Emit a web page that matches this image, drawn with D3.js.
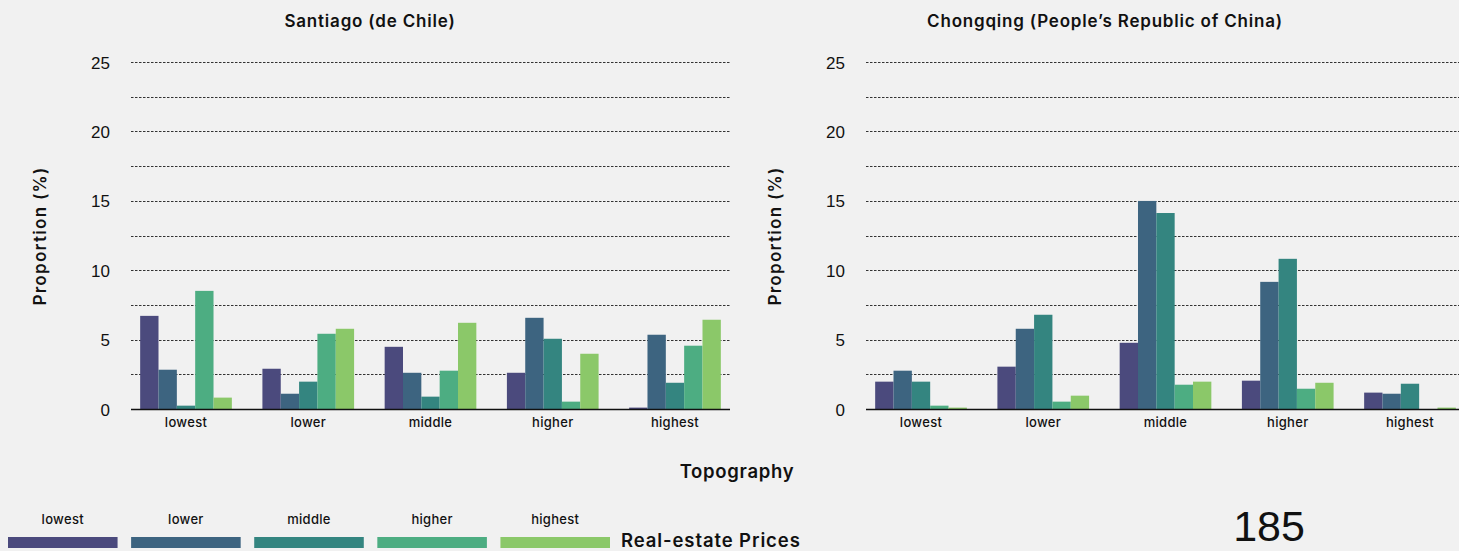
<!DOCTYPE html>
<html>
<head>
<meta charset="utf-8">
<script src="https://cdn.jsdelivr.net/npm/d3@7"></script>
<style>
  body { margin: 0; background: #f1f1f1; }
  svg { display: block; }
  text { font-family: Inter, "Liberation Sans", sans-serif; fill: #111; }
</style>
</head>
<body>
<div id="chart"></div>
<script>
var w = 1459;
var h = 551;

// categories
var topography = ["lowest", "lower", "middle", "higher", "highest"];
var prices = ["lowest", "lower", "middle", "higher", "highest"];
var colors = ["#4b4a7d", "#3d6480", "#348580", "#4dad82", "#8bc869"];
var yTicks = [0, 5, 10, 15, 20, 25];

// values per topography group, one entry per price level
var santiago = [
  [6.71, 2.83, 0.24, 8.51, 0.82],
  [2.90, 1.10, 1.97, 5.42, 5.78],
  [4.48, 2.61, 0.89, 2.76, 6.21],
  [2.61, 6.57, 5.06, 0.53, 3.98],
  [0.10, 5.35, 1.89, 4.56, 6.43]
];
var chongqing = [
  [1.97, 2.76, 1.97, 0.24, 0.10],
  [3.05, 5.78, 6.79, 0.53, 0.96],
  [4.77, 14.99, 14.12, 1.75, 1.97],
  [2.04, 9.16, 10.82, 1.46, 1.89],
  [1.18, 1.10, 1.82, 0.00, 0.10]
];

var svg = d3.select("#chart")
            .append("svg")
            .attr("width", w)
            .attr("height", h);

var pw = 599;
var y = d3.scaleLinear().domain([0, 25]).range([409, 62]);

function drawPanel(x0, title, data) {
  var g = svg.append("g");

  var x = d3.scaleBand()
            .domain(topography)
            .range([x0, x0 + pw])
            .paddingInner(0.25)
            .paddingOuter(0.075);
  var x1 = d3.scaleBand()
             .domain(prices)
             .range([0, x.bandwidth()]);

  // dashed grid every 2.5
  var grid = d3.range(2.5, 25.01, 2.5);
  g.selectAll("line.grid")
    .data(grid)
    .enter()
    .append("line")
    .attr("class", "grid")
    .attr("x1", x0)
    .attr("x2", x0 + pw)
    .attr("y1", function(d) { return Math.round(y(d)) + 0.5; })
    .attr("y2", function(d) { return Math.round(y(d)) + 0.5; })
    .attr("stroke", "#333")
    .attr("stroke-width", 1)
    .attr("stroke-dasharray", "2.5,1.5");

  // bars
  var groups = g.selectAll("g.grp")
    .data(data)
    .enter()
    .append("g")
    .attr("class", "grp")
    .attr("transform", function(d, i) {
      return "translate(" + x(topography[i]) + ",0)";
    });
  groups.selectAll("rect")
    .data(function(d) { return d; })
    .enter()
    .append("rect")
    .attr("x", function(d, i) { return x1(prices[i]); })
    .attr("y", function(d) { return y(d); })
    .attr("width", x1.bandwidth())
    .attr("height", function(d) { return y(0) - y(d); })
    .attr("fill", function(d, i) { return colors[i]; });

  // baseline
  g.append("line")
    .attr("x1", x0)
    .attr("x2", x0 + pw)
    .attr("y1", y(0) + 0.5)
    .attr("y2", y(0) + 0.5)
    .attr("stroke", "#111")
    .attr("stroke-width", 1.5);

  // y axis
  var yAxis = d3.axisLeft(y).tickValues(yTicks).tickSize(0).tickPadding(0);
  var ya = g.append("g")
    .attr("transform", "translate(" + (x0 - 21) + ",0)")
    .call(yAxis);
  ya.select(".domain").remove();
  ya.selectAll("text")
    .style("font-family", "'Liberation Sans', Arial, sans-serif")
    .style("font-size", "17px")
    .attr("fill", "#111")
    .attr("dy", "0.36em");

  // x axis
  var xAxis = d3.axisBottom(x).tickSize(0).tickPadding(0);
  var xa = g.append("g")
    .attr("transform", "translate(0," + 418 + ")")
    .call(xAxis);
  xa.select(".domain").remove();
  xa.selectAll("text")
    .style("font-family", "Inter, sans-serif")
    .style("font-size", "13px")
    .style("font-weight", "500")
    .style("letter-spacing", "0.3px")
    .attr("fill", "#111")
    .attr("dy", "0.71em");

  // y label
  g.append("text")
    .attr("transform", "translate(" + (x0 - 85) + ",236) rotate(-90)")
    .attr("text-anchor", "middle")
    .style("font-size", "17px")
    .style("font-weight", "600")
    .style("letter-spacing", "1.3px")
    .text("Proportion (%)");

  // title
  g.append("text")
    .attr("x", x0 + 239)
    .attr("y", 27)
    .attr("text-anchor", "middle")
    .style("font-size", "17px")
    .style("font-weight", "600")
    .style("letter-spacing", "0.8px")
    .text(title);
}

drawPanel(131, "Santiago (de Chile)", santiago);
drawPanel(866, "Chongqing (People\u2019s Republic of China)", chongqing);

// x title
svg.append("text")
  .attr("x", 737)
  .attr("y", 478)
  .attr("text-anchor", "middle")
  .style("font-size", "18.5px")
  .style("font-weight", "600")
  .style("letter-spacing", "0.7px")
  .text("Topography");

// legend
var legX = d3.scaleBand().domain(prices).range([8, 610]).paddingInner(0.11);
var leg = svg.append("g");
leg.selectAll("rect")
  .data(prices)
  .enter()
  .append("rect")
  .attr("x", function(d) { return legX(d); })
  .attr("y", 537)
  .attr("width", legX.bandwidth())
  .attr("height", 11)
  .attr("fill", function(d, i) { return colors[i]; });
leg.selectAll("text")
  .data(prices)
  .enter()
  .append("text")
  .attr("x", function(d) { return legX(d) + legX.bandwidth() / 2; })
  .attr("y", 524)
  .attr("text-anchor", "middle")
  .style("font-size", "13px")
  .style("font-weight", "500")
  .style("letter-spacing", "0.3px")
  .text(function(d) { return d; });

svg.append("text")
  .attr("x", 621)
  .attr("y", 547)
  .style("font-size", "18.5px")
  .style("font-weight", "600")
  .style("letter-spacing", "0.9px")
  .text("Real-estate Prices");

// page number
svg.append("text")
  .attr("x", 1269)
  .attr("y", 541)
  .attr("text-anchor", "middle")
  .style("font-family", "'Liberation Sans', Arial, sans-serif")
  .style("font-size", "43px")
  .text("185");
</script>
</body>
</html>
